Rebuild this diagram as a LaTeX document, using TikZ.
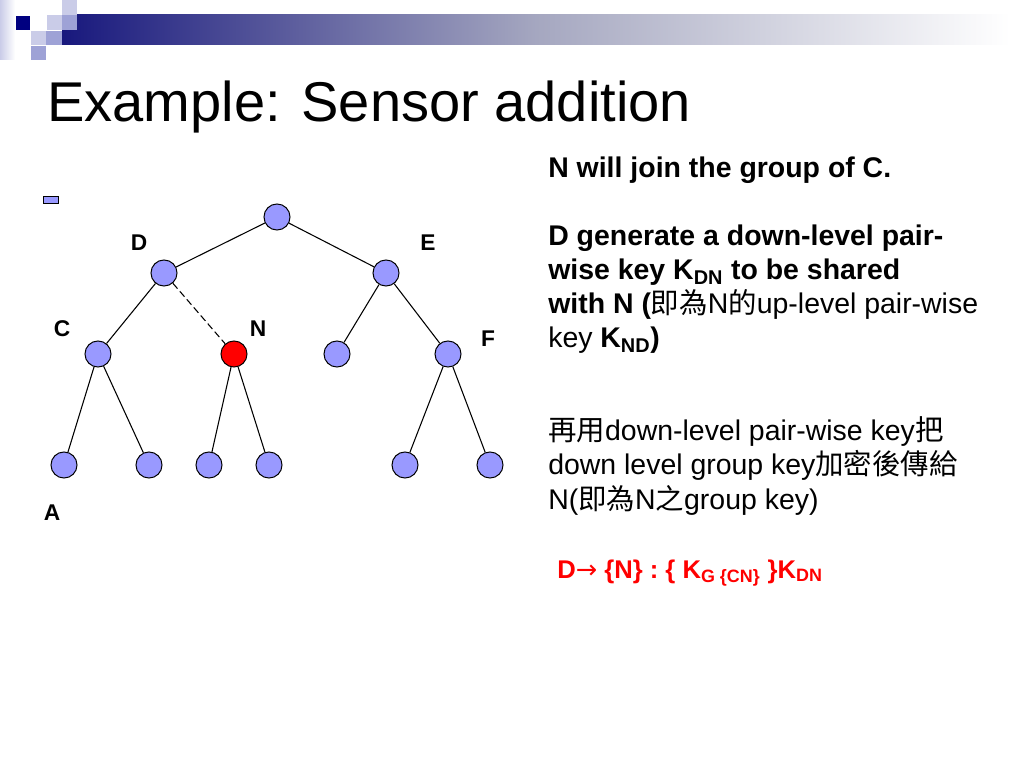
\documentclass[tikz,border=0pt]{standalone}
\usepackage{fontspec}
\setmainfont{Liberation Sans}
\newfontfamily\cjk{Noto Sans CJK TC}
\newfontfamily\arrowfont{DejaVu Sans}
\definecolor{nodeblue}{RGB}{153,153,255}
\definecolor{navy}{RGB}{0,0,128}
\definecolor{barleft}{RGB}{24,24,125}
\definecolor{barmid}{RGB}{165,167,192}
\definecolor{tilelight}{RGB}{202,204,232}
\definecolor{tilemid}{RGB}{158,162,214}
\begin{document}
\begin{tikzpicture}[x=0.703125pt,y=-0.703125pt]
        \tikzstyle{sensor} = [circle, minimum size=18.3pt, inner sep=0pt, draw=black, line width=0.7pt, fill=nodeblue]
        \tikzstyle{joined} = [sensor, fill=red]
        \tikzstyle{label} = [font=\fontsize{16}{19}\selectfont\bfseries, inner sep=0pt]
        \tikzstyle{body} = [anchor=base west, inner sep=0pt, align=left, font=\fontsize{20}{24}\selectfont]
        \tikzstyle{edge} = [line width=0.75pt]

                \useasboundingbox (0,0) rectangle (1024,768);
                \fill[white] (0,0) rectangle (1024,768);

                % header bar
                \shade[left color=tilelight, right color=white] (0,0) rectangle (15,60);
                \shade[left color=barleft, right color=white, middle color=barmid] (62,15) rectangle (1010,45);
                \fill[navy] (16,16) rectangle (30,30);
                \fill[tilelight] (62,0) rectangle (77,15);
                \fill[tilelight] (47,15) rectangle (62,30);
                \fill[tilemid] (62,15) rectangle (77,30);
                \fill[tilelight] (31,31) rectangle (46,45);
                \fill[tilemid] (46,31) rectangle (62,45);
                \fill[tilemid] (31,46) rectangle (46,60);

                \node (title) [anchor=base west, inner sep=0pt, font=\fontsize{39.4}{47}\selectfont] at (47,122) {Example: Sensor addition};

                % tree
                \node (root) [sensor] at (277,217) {};
                \node (D) [sensor] at (164,273) {};
                \node (E) [sensor] at (386,273) {};
                \node (C) [sensor] at (98,354) {};
                \node (N) [joined] at (234,354) {};
                \node (e1) [sensor] at (337,354) {};
                \node (F) [sensor] at (448,354) {};
                \node (A) [sensor] at (64,465) {};
                \node (c2) [sensor] at (149,465) {};
                \node (n1) [sensor] at (209,465) {};
                \node (n2) [sensor] at (269,465) {};
                \node (f1) [sensor] at (405,465) {};
                \node (f2) [sensor] at (490,465) {};
                \node (legend) [draw=black, line width=0.5pt, fill=nodeblue, minimum width=11pt, minimum height=5pt, inner sep=0pt] at (51,200) {};

                \draw[edge] (root) -- (D);
                \draw[edge] (root) -- (E);
                \draw[edge] (D) -- (C);
                \draw[edge, dash pattern=on 5pt off 2.5pt] (D) -- (N);
                \draw[edge] (E) -- (e1);
                \draw[edge] (E) -- (F);
                \draw[edge] (C) -- (A);
                \draw[edge] (C) -- (c2);
                \draw[edge] (N) -- (n1);
                \draw[edge] (N) -- (n2);
                \draw[edge] (F) -- (f1);
                \draw[edge] (F) -- (f2);

                \node (labD) [label] at (139,243) {D};
                \node (labE) [label] at (428,243) {E};
                \node (labC) [label] at (62,329) {C};
                \node (labN) [label] at (258,329) {N};
                \node (labF) [label] at (488,339) {F};
                \node (labA) [label] at (52,513) {A};

                % text (base anchor sits on the last line)
                \node (join) [body, font=\fontsize{20}{24}\selectfont\bfseries] at (548,178) {N will join the group of C.};
                \node (gen) [body] at (548,348) {\textbf{D generate a down-level pair-}\\
                        \textbf{wise key K\textsubscript{DN} to be shared}\\
                        \textbf{with N (}{\cjk 即為}N{\cjk 的}up-level pair-wise\\
                        key \textbf{K\textsubscript{ND})}};
                \node (enc) [body] at (548,509) {{\cjk 再用}down-level pair-wise key{\cjk 把}\\
                        down level group key{\cjk 加密後傳給}\\
                        N({\cjk 即為}N{\cjk 之}group key)};
                \node (msg) [body, text=red, font=\fontsize{18}{22}\selectfont\bfseries] at (557,578) {D{\arrowfont\mdseries →} \{N\} : \{ K\textsubscript{G \{CN\}} \}K\textsubscript{DN}};
    \end{tikzpicture}
\end{document}
